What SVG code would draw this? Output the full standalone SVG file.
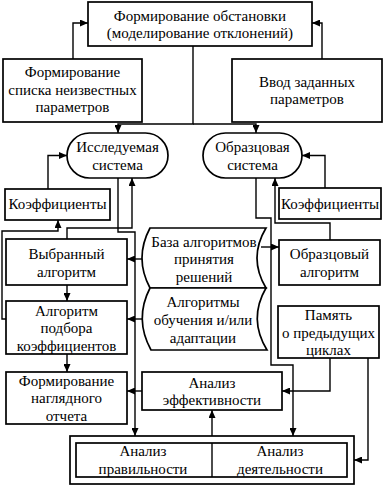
<svg xmlns="http://www.w3.org/2000/svg" width="384" height="487" viewBox="0 0 384 487">
<defs>
<marker id="ah" markerUnits="userSpaceOnUse" markerWidth="8" markerHeight="7" refX="8" refY="3.5" orient="auto">
<path d="M0,0 L8,3.5 L0,7 Z" fill="#000"/>
</marker>
<style>
.b{fill:#fff;stroke:#000;stroke-width:1.7}
.c{fill:none;stroke:#000;stroke-width:1.4}
.a{marker-end:url(#ah)}
text{font-family:'Liberation Serif','DejaVu Serif',serif;font-size:15px;fill:#000;text-anchor:middle}
</style>
</defs>
<rect width="384" height="487" fill="#fff"/>
<g id="connectors">
<path class="c a" d="M73,59 V23 H88"/>
<path class="c a" d="M322,59 V23 H312"/>
<path class="c a" d="M193,46 V124 H118 V133"/>
<path class="c a" d="M193,124 H256 V133"/>
<path class="c a" d="M48,189 V155.5 H67"/>
<path class="c a" d="M325,188 V155.5 H302"/>
<path class="c a" d="M67,239 V228 H132 V178"/>
<path class="c a" d="M118,178 V232 H135 V436"/>
<path class="c a" d="M330,240 V223 H275 V178"/>
<path class="c a" d="M256,178 V218 H271 V365 H293 V436"/>
<path class="c a" d="M142,259 H127"/>
<path class="c a" d="M261,247 H279"/>
<path class="c a" d="M142,319 H127"/>
<path class="c a" d="M142,391 H127"/>
<path class="c a" d="M212,436 V410"/>
<path class="c a" d="M330,358 V391 H282"/>
<path class="c a" d="M368,358 V460 H354"/>
<path class="c a" d="M6,319 H2 V231 H58 V220"/>
<path class="c a" d="M67,285 V301"/>
<path class="c a" d="M67,354 V372"/>
</g>
<g font-family="Liberation Serif, DejaVu Serif, serif">
<g id="n-top">
<rect class="b" x="88" y="2" width="224" height="44"/>
<text x="200" y="21">Формирование обстановки</text>
<text x="200" y="38">(моделирование отклонений)</text>
</g>
<g id="n-unknown">
<rect class="b" x="3" y="59" width="139" height="63"/>
<text x="72.5" y="77">Формирование</text>
<text x="72.5" y="95">списка неизвестных</text>
<text x="72.5" y="112">параметров</text>
</g>
<g id="n-given">
<rect class="b" x="232" y="59" width="150" height="63"/>
<text x="307" y="87">Ввод заданных</text>
<text x="307" y="104">параметров</text>
</g>
<g id="n-studied">
<rect class="b" x="67" y="133" width="101" height="45" rx="22.5"/>
<text x="117.5" y="152">Исследуемая</text>
<text x="117.5" y="170">система</text>
</g>
<g id="n-model">
<rect class="b" x="203" y="133" width="99" height="45" rx="22.5"/>
<text x="252.5" y="152">Образцовая</text>
<text x="252.5" y="170">система</text>
</g>
<g id="n-coef-left">
<rect class="b" x="5" y="189" width="105" height="31"/>
<text x="57.5" y="209">Коэффициенты</text>
</g>
<g id="n-coef-right">
<rect class="b" x="279" y="188" width="102" height="31"/>
<text x="330" y="209">Коэффициенты</text>
</g>
<g id="n-chosen">
<rect class="b" x="6" y="239" width="121" height="46"/>
<text x="66.5" y="259">Выбранный</text>
<text x="66.5" y="277">алгоритм</text>
</g>
<g id="n-model-alg">
<rect class="b" x="279" y="240" width="101" height="45"/>
<text x="329.5" y="259">Образцовый</text>
<text x="329.5" y="277">алгоритм</text>
</g>
<g id="n-base">
<path class="b" d="M150,228 H266 Q248,258 266,288 H150 Q134,258 150,228 Z"/>
<text x="204" y="247">База алгоритмов</text>
<text x="204" y="264">принятия</text>
<text x="204" y="282">решений</text>
</g>
<g id="n-learn">
<path class="b" d="M150,288 H266 Q248,319 267,350 H151 Q134,319 150,288 Z"/>
<text x="203" y="307">Алгоритмы</text>
<text x="203" y="325">обучения и/или</text>
<text x="203" y="343">адаптации</text>
</g>
<g id="n-select">
<rect class="b" x="6" y="301" width="121" height="53"/>
<text x="66.5" y="316">Алгоритм</text>
<text x="66.5" y="333">подбора</text>
<text x="66.5" y="351">коэффициентов</text>
</g>
<g id="n-memory">
<rect class="b" x="278" y="306" width="101" height="52"/>
<text x="328.5" y="320">Память</text>
<text x="328.5" y="338">о предыдущих</text>
<text x="328.5" y="355">циклах</text>
</g>
<g id="n-report">
<rect class="b" x="6" y="372" width="121" height="52"/>
<text x="66.5" y="386">Формирование</text>
<text x="66.5" y="403">наглядного</text>
<text x="66.5" y="421">отчета</text>
</g>
<g id="n-eff">
<rect class="b" x="142" y="372" width="140" height="38"/>
<text x="212" y="388">Анализ</text>
<text x="212" y="405">эффективности</text>
</g>
<g id="n-analysis">
<rect class="b" x="70" y="436" width="284" height="48"/>
<rect class="b" x="76" y="443" width="271" height="34"/>
<line class="c" x1="212" y1="443" x2="212" y2="477"/>
<text x="143" y="456">Анализ</text>
<text x="143" y="474">правильности</text>
<text x="280" y="456">Анализ</text>
<text x="280" y="474">деятельности</text>
</g>
</g>
</svg>
